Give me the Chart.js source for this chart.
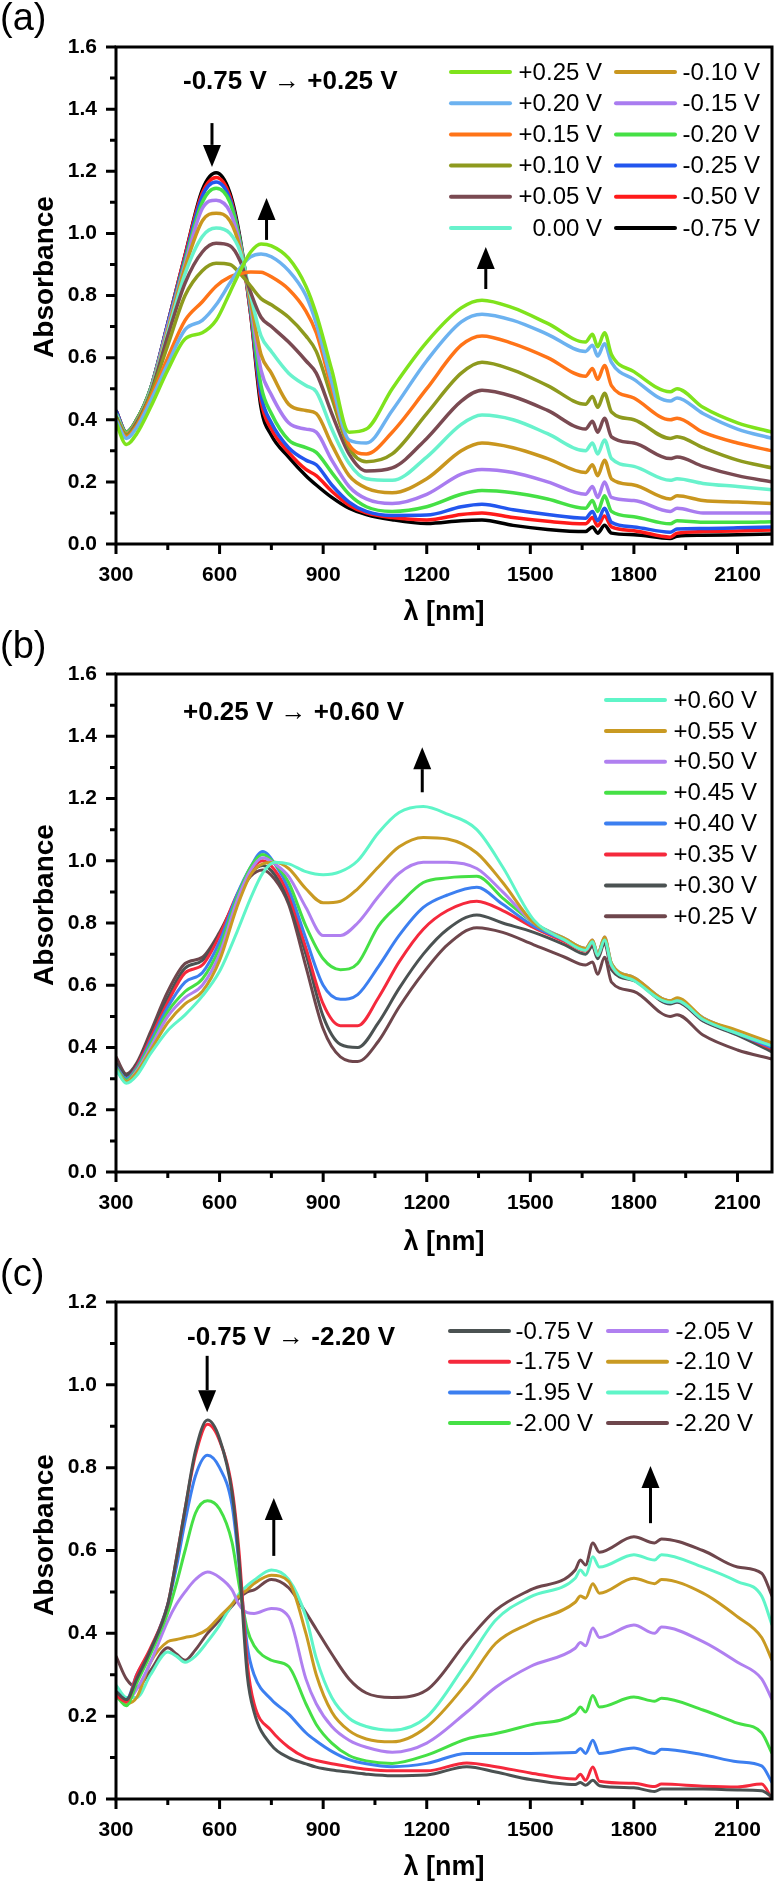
<!DOCTYPE html>
<html lang="en">
<head>
<meta charset="UTF-8">
<title>Absorbance spectra</title>
<script src="https://cdn.jsdelivr.net/npm/chart.js@4.4.0/dist/chart.umd.min.js"></script>
<style>
  body { margin: 0; background: #fff; }
  #wrap { position: relative; width: 780px; height: 1886px; }
  canvas { position: absolute; left: 0; }
</style>
</head>
<body>
<div id="wrap">
  <canvas id="cA" width="780" height="628" style="top:0"></canvas>
  <canvas id="cB" width="780" height="628" style="top:628px"></canvas>
  <canvas id="cC" width="780" height="630" style="top:1256px"></canvas>
</div>
<script>
// ---- panel (a): -0.75 V -> +0.25 V ----
const wlA = [300, 330, 360, 400, 450, 500, 550, 590, 630, 660, 690, 720, 750, 800, 850, 880, 925, 975, 1025, 1100,
             1200, 1300, 1360, 1450, 1550, 1660, 1680, 1695, 1715, 1735, 1800, 1905, 1925, 2000, 2100, 2200];
const labelsA = ['+0.25 V', '+0.20 V', '+0.15 V', '+0.10 V', '+0.05 V', '0.00 V',
                 '-0.10 V', '-0.15 V', '-0.20 V', '-0.25 V', '-0.50 V', '-0.75 V'];
const a_p025 = [0.39, 0.32, 0.355, 0.44, 0.56, 0.66, 0.68, 0.72, 0.81, 0.88, 0.94, 0.966, 0.96, 0.92, 0.83, 0.74, 0.56, 0.36, 0.37, 0.50,
                0.65, 0.76, 0.785, 0.76, 0.71, 0.65, 0.675, 0.635, 0.68, 0.61, 0.555, 0.49, 0.50, 0.44, 0.39, 0.36];
const a_p020 = [0.40, 0.34, 0.375, 0.46, 0.58, 0.69, 0.72, 0.77, 0.84, 0.89, 0.925, 0.934, 0.925, 0.88, 0.80, 0.71, 0.52, 0.335, 0.325, 0.43,
                0.59, 0.715, 0.74, 0.72, 0.675, 0.62, 0.64, 0.605, 0.645, 0.585, 0.53, 0.46, 0.47, 0.42, 0.37, 0.34];
const a_p015 = [0.40, 0.345, 0.38, 0.47, 0.60, 0.72, 0.78, 0.83, 0.86, 0.87, 0.876, 0.875, 0.86, 0.82, 0.75, 0.68, 0.50, 0.32, 0.29, 0.36,
                0.50, 0.64, 0.67, 0.645, 0.60, 0.54, 0.565, 0.53, 0.575, 0.51, 0.47, 0.40, 0.405, 0.36, 0.325, 0.30];
const a_p010 = [0.41, 0.35, 0.385, 0.48, 0.64, 0.80, 0.88, 0.904, 0.90, 0.87, 0.83, 0.79, 0.77, 0.73, 0.67, 0.62, 0.47, 0.31, 0.265, 0.29,
                0.42, 0.55, 0.585, 0.56, 0.51, 0.45, 0.475, 0.44, 0.485, 0.425, 0.40, 0.34, 0.345, 0.31, 0.27, 0.245];
const a_p005 = [0.41, 0.35, 0.39, 0.485, 0.67, 0.84, 0.94, 0.968, 0.96, 0.91, 0.81, 0.73, 0.70, 0.65, 0.59, 0.55, 0.42, 0.29, 0.235, 0.245,
                0.34, 0.46, 0.495, 0.475, 0.43, 0.37, 0.395, 0.36, 0.405, 0.345, 0.325, 0.275, 0.28, 0.25, 0.22, 0.20];
const a_000  = [0.42, 0.35, 0.39, 0.49, 0.68, 0.87, 0.99, 1.017, 1.00, 0.94, 0.80, 0.67, 0.62, 0.55, 0.51, 0.49, 0.37, 0.26, 0.21, 0.205,
                0.28, 0.385, 0.415, 0.40, 0.355, 0.30, 0.325, 0.29, 0.335, 0.275, 0.25, 0.205, 0.21, 0.195, 0.185, 0.175];
const a_m010 = [0.42, 0.355, 0.395, 0.49, 0.69, 0.89, 1.04, 1.065, 1.04, 0.95, 0.78, 0.61, 0.55, 0.45, 0.43, 0.42, 0.32, 0.22, 0.18, 0.165,
                0.21, 0.30, 0.325, 0.31, 0.275, 0.23, 0.255, 0.22, 0.27, 0.21, 0.19, 0.145, 0.155, 0.14, 0.135, 0.13];
const a_m015 = [0.42, 0.355, 0.395, 0.495, 0.70, 0.90, 1.08, 1.107, 1.07, 0.96, 0.77, 0.56, 0.48, 0.39, 0.37, 0.36, 0.27, 0.185, 0.145, 0.13,
                0.16, 0.225, 0.24, 0.23, 0.20, 0.16, 0.185, 0.15, 0.20, 0.15, 0.14, 0.105, 0.115, 0.10, 0.10, 0.10];
const a_m020 = [0.42, 0.36, 0.40, 0.50, 0.70, 0.91, 1.10, 1.145, 1.10, 0.97, 0.76, 0.51, 0.42, 0.335, 0.31, 0.295, 0.23, 0.16, 0.12, 0.105,
                0.12, 0.16, 0.172, 0.165, 0.145, 0.115, 0.14, 0.105, 0.155, 0.105, 0.088, 0.065, 0.075, 0.07, 0.07, 0.072];
const a_m025 = [0.43, 0.36, 0.40, 0.50, 0.71, 0.92, 1.12, 1.165, 1.11, 0.97, 0.75, 0.48, 0.39, 0.31, 0.27, 0.255, 0.19, 0.135, 0.105, 0.092,
                0.093, 0.12, 0.128, 0.11, 0.095, 0.083, 0.105, 0.075, 0.115, 0.07, 0.055, 0.038, 0.048, 0.05, 0.052, 0.055];
const a_m050 = [0.43, 0.36, 0.40, 0.50, 0.71, 0.93, 1.13, 1.18, 1.12, 0.97, 0.74, 0.46, 0.37, 0.295, 0.24, 0.22, 0.17, 0.125, 0.10, 0.085,
                0.077, 0.095, 0.10, 0.085, 0.073, 0.065, 0.085, 0.058, 0.09, 0.055, 0.043, 0.022, 0.035, 0.04, 0.042, 0.045];
const a_m075 = [0.43, 0.36, 0.40, 0.50, 0.71, 0.93, 1.14, 1.195, 1.13, 0.98, 0.74, 0.44, 0.35, 0.28, 0.22, 0.19, 0.15, 0.115, 0.095, 0.078,
                0.066, 0.075, 0.077, 0.06, 0.047, 0.04, 0.055, 0.035, 0.06, 0.035, 0.03, 0.018, 0.025, 0.028, 0.03, 0.032];

// ---- panel (b): +0.25 V -> +0.60 V ----
const wlB = [300, 330, 360, 400, 450, 500, 550, 600, 650, 690, 725, 760, 800, 850, 900, 950, 1000, 1060, 1120, 1190,
             1260, 1345, 1420, 1510, 1600, 1660, 1680, 1695, 1715, 1735, 1800, 1905, 1925, 2000, 2100, 2200];
const labelsB = ['+0.60 V', '+0.55 V', '+0.50 V', '+0.45 V', '+0.40 V', '+0.35 V', '+0.30 V', '+0.25 V'];
const b_p060 = [0.33, 0.285, 0.31, 0.38, 0.455, 0.505, 0.565, 0.645, 0.77, 0.88, 0.96, 0.995, 0.99, 0.965, 0.955, 0.965, 1.00, 1.09, 1.155, 1.174,
                1.15, 1.10, 0.98, 0.81, 0.745, 0.712, 0.74, 0.695, 0.745, 0.665, 0.615, 0.545, 0.55, 0.49, 0.445, 0.405];
const b_p055 = [0.33, 0.29, 0.32, 0.39, 0.48, 0.54, 0.58, 0.68, 0.85, 0.955, 0.99, 0.995, 0.975, 0.91, 0.865, 0.87, 0.91, 0.98, 1.045, 1.075,
                1.07, 1.025, 0.93, 0.80, 0.75, 0.718, 0.745, 0.70, 0.755, 0.67, 0.625, 0.55, 0.56, 0.495, 0.455, 0.415];
const b_p050 = [0.33, 0.29, 0.325, 0.40, 0.50, 0.56, 0.60, 0.70, 0.87, 0.97, 1.01, 0.99, 0.95, 0.85, 0.76, 0.76, 0.80, 0.885, 0.96, 0.995,
                0.995, 0.975, 0.90, 0.80, 0.75, 0.718, 0.745, 0.70, 0.755, 0.67, 0.625, 0.55, 0.555, 0.495, 0.45, 0.413];
const b_p045 = [0.335, 0.295, 0.33, 0.41, 0.515, 0.58, 0.62, 0.72, 0.88, 0.98, 1.02, 0.99, 0.93, 0.79, 0.685, 0.65, 0.67, 0.79, 0.86, 0.93,
                0.945, 0.95, 0.88, 0.80, 0.75, 0.718, 0.74, 0.70, 0.75, 0.67, 0.625, 0.55, 0.555, 0.495, 0.45, 0.41];
const b_p040 = [0.34, 0.30, 0.335, 0.42, 0.53, 0.61, 0.64, 0.74, 0.89, 0.98, 1.03, 0.99, 0.91, 0.75, 0.60, 0.555, 0.57, 0.66, 0.76, 0.85,
                0.89, 0.915, 0.86, 0.79, 0.745, 0.715, 0.74, 0.70, 0.75, 0.665, 0.62, 0.545, 0.55, 0.49, 0.445, 0.40];
const b_p035 = [0.34, 0.30, 0.34, 0.43, 0.545, 0.64, 0.665, 0.76, 0.89, 0.97, 1.00, 0.97, 0.89, 0.72, 0.54, 0.47, 0.47, 0.56, 0.675, 0.78,
                0.84, 0.87, 0.84, 0.785, 0.74, 0.71, 0.735, 0.695, 0.745, 0.66, 0.62, 0.545, 0.55, 0.49, 0.445, 0.395];
const b_p030 = [0.35, 0.31, 0.345, 0.44, 0.56, 0.655, 0.68, 0.765, 0.88, 0.96, 0.985, 0.955, 0.87, 0.70, 0.50, 0.41, 0.40, 0.48, 0.59, 0.70,
                0.78, 0.826, 0.80, 0.77, 0.73, 0.70, 0.725, 0.685, 0.735, 0.65, 0.615, 0.54, 0.545, 0.485, 0.44, 0.386];
const b_p025 = [0.37, 0.315, 0.35, 0.45, 0.58, 0.67, 0.69, 0.77, 0.88, 0.95, 0.97, 0.94, 0.86, 0.66, 0.46, 0.37, 0.355, 0.42, 0.53, 0.64,
                0.73, 0.785, 0.77, 0.73, 0.69, 0.665, 0.675, 0.635, 0.69, 0.61, 0.58, 0.50, 0.505, 0.44, 0.392, 0.363];

// ---- panel (c): -0.75 V -> -2.20 V ----
const wlC = [300, 330, 360, 400, 450, 475, 500, 530, 565, 600, 636, 656, 680, 700, 750, 800, 850, 880, 925, 975,
             1025, 1100, 1200, 1316, 1400, 1500, 1630, 1645, 1660, 1681, 1700, 1800, 1860, 1880, 2000, 2100, 2170, 2200];
const labelsC = ['-0.75 V', '-1.75 V', '-1.95 V', '-2.00 V', '-2.05 V', '-2.10 V', '-2.15 V', '-2.20 V'];
const c_m075 = [0.26, 0.24, 0.29, 0.36, 0.47, 0.58, 0.70, 0.84, 0.915, 0.87, 0.74, 0.58, 0.30, 0.21, 0.13, 0.10, 0.085, 0.077, 0.07, 0.065,
                0.06, 0.056, 0.058, 0.078, 0.065, 0.047, 0.035, 0.04, 0.033, 0.045, 0.032, 0.027, 0.018, 0.024, 0.024, 0.022, 0.02, 0.005];
const c_m175 = [0.25, 0.235, 0.30, 0.365, 0.47, 0.58, 0.70, 0.83, 0.905, 0.865, 0.75, 0.60, 0.33, 0.23, 0.165, 0.125, 0.10, 0.093, 0.085, 0.078,
                0.072, 0.068, 0.068, 0.087, 0.078, 0.063, 0.048, 0.06, 0.045, 0.077, 0.043, 0.038, 0.03, 0.036, 0.031, 0.029, 0.036, 0.0];
const c_m195 = [0.26, 0.24, 0.30, 0.36, 0.47, 0.56, 0.67, 0.78, 0.83, 0.80, 0.71, 0.57, 0.37, 0.30, 0.24, 0.205, 0.16, 0.14, 0.115, 0.095,
                0.085, 0.078, 0.086, 0.11, 0.11, 0.11, 0.112, 0.122, 0.11, 0.142, 0.11, 0.123, 0.11, 0.12, 0.107, 0.09, 0.08, 0.04];
const c_m200 = [0.25, 0.225, 0.28, 0.35, 0.45, 0.52, 0.60, 0.69, 0.72, 0.70, 0.62, 0.52, 0.41, 0.37, 0.335, 0.32, 0.23, 0.18, 0.135, 0.105,
                0.092, 0.086, 0.106, 0.145, 0.158, 0.179, 0.207, 0.222, 0.21, 0.25, 0.222, 0.246, 0.236, 0.243, 0.215, 0.183, 0.16, 0.11];
const c_m205 = [0.245, 0.235, 0.265, 0.33, 0.43, 0.47, 0.50, 0.53, 0.548, 0.535, 0.505, 0.47, 0.45, 0.448, 0.46, 0.44, 0.29, 0.23, 0.175, 0.142,
                0.125, 0.113, 0.135, 0.21, 0.27, 0.32, 0.364, 0.378, 0.37, 0.413, 0.39, 0.42, 0.40, 0.415, 0.38, 0.33, 0.29, 0.24];
const c_m210 = [0.255, 0.23, 0.245, 0.33, 0.38, 0.385, 0.39, 0.395, 0.41, 0.44, 0.47, 0.49, 0.505, 0.52, 0.54, 0.525, 0.40, 0.30, 0.21, 0.165,
                0.145, 0.138, 0.174, 0.28, 0.376, 0.425, 0.475, 0.49, 0.485, 0.52, 0.497, 0.533, 0.52, 0.53, 0.497, 0.44, 0.39, 0.335];
const c_m215 = [0.275, 0.245, 0.245, 0.30, 0.355, 0.345, 0.33, 0.345, 0.38, 0.42, 0.47, 0.495, 0.515, 0.528, 0.553, 0.53, 0.44, 0.34, 0.245, 0.195,
                0.175, 0.166, 0.198, 0.33, 0.432, 0.488, 0.533, 0.553, 0.54, 0.585, 0.56, 0.59, 0.577, 0.59, 0.56, 0.525, 0.49, 0.42];
const c_m220 = [0.345, 0.29, 0.27, 0.31, 0.365, 0.35, 0.335, 0.36, 0.40, 0.432, 0.466, 0.485, 0.50, 0.505, 0.53, 0.51, 0.45, 0.41, 0.35, 0.29,
                0.256, 0.245, 0.263, 0.38, 0.456, 0.505, 0.553, 0.577, 0.565, 0.618, 0.596, 0.633, 0.618, 0.628, 0.60, 0.56, 0.545, 0.49];

// tick positions (every other one gets a label)
const xTicks = [300, 450, 600, 750, 900, 1050, 1200, 1350, 1500, 1650, 1800, 1950, 2100];
const yTicks16 = [0, 0.1, 0.2, 0.3, 0.4, 0.5, 0.6, 0.7, 0.8, 0.9, 1.0, 1.1, 1.2, 1.3, 1.4, 1.5, 1.6];
const yTicks12 = [0, 0.1, 0.2, 0.3, 0.4, 0.5, 0.6, 0.7, 0.8, 0.9, 1.0, 1.1, 1.2];

const FONT = "'Liberation Sans', Arial, sans-serif";
Chart.defaults.font.family = FONT;

// frame, tick marks, titles, arrows, legend
const decor = {
  id: 'decor',
  afterDraw(chart, args, o) {
    const ctx = chart.ctx, a = chart.chartArea;
    const xs = chart.scales.x, ys = chart.scales.y;
    ctx.save();
    ctx.strokeStyle = '#000';
    ctx.fillStyle = '#000';
    ctx.lineWidth = 3;
    ctx.strokeRect(a.left, a.top, a.right - a.left, a.bottom - a.top);

    ctx.beginPath();
    ys.ticks.forEach((t, i) => {
      const p = ys.getPixelForValue(t.value);
      const len = i % 2 === 0 ? 10 : 6;
      ctx.moveTo(a.left, p); ctx.lineTo(a.left - len, p);
    });
    xs.ticks.forEach((t, i) => {
      const p = xs.getPixelForValue(t.value);
      const len = i % 2 === 0 ? 10 : 6;
      ctx.moveTo(p, a.bottom); ctx.lineTo(p, a.bottom + len);
    });
    ctx.stroke();

    // panel letter
    ctx.font = '38px ' + FONT;
    ctx.textAlign = 'left'; ctx.textBaseline = 'alphabetic';
    ctx.fillText(o.letter, 0, 30);

    // axis titles
    ctx.font = 'bold 27px ' + FONT;
    ctx.textAlign = 'center'; ctx.textBaseline = 'middle';
    ctx.fillText('λ [nm]', (a.left + a.right) / 2, o.xTitleY);
    ctx.save();
    ctx.translate(53, o.yTitleY);
    ctx.rotate(-Math.PI / 2);
    ctx.font = 'bold 28px ' + FONT;
    ctx.textBaseline = 'alphabetic';
    ctx.fillText('Absorbance', 0, 0);
    ctx.restore();

    // potential step note
    ctx.textAlign = 'left'; ctx.textBaseline = 'middle';
    let x = o.note.x;
    o.note.parts.forEach((s, i) => {
      ctx.font = (i === 1 ? '' : 'bold ') + '26px ' + FONT;
      ctx.fillText(s, x, o.note.y);
      x += ctx.measureText(s).width;
    });

    // arrows
    o.arrows.forEach(([wx, v0, v1]) => {
      const px = xs.getPixelForValue(wx);
      const y0 = ys.getPixelForValue(v0), y1 = ys.getPixelForValue(v1);
      const dir = Math.sign(y1 - y0), hl = 22, hw = 9;
      ctx.lineWidth = 3;
      ctx.beginPath(); ctx.moveTo(px, y0); ctx.lineTo(px, y1 - dir * hl); ctx.stroke();
      ctx.beginPath();
      ctx.moveTo(px, y1);
      ctx.lineTo(px - hw, y1 - dir * hl);
      ctx.lineTo(px + hw, y1 - dir * hl);
      ctx.closePath(); ctx.fill();
    });

    // legend
    ctx.font = '24px ' + FONT;
    ctx.textAlign = 'right'; ctx.textBaseline = 'middle';
    ctx.lineCap = 'round';
    o.legend.cols.forEach(c => {
      c.idx.forEach((di, r) => {
        const ds = chart.data.datasets[di];
        const y = o.legend.y0 + r * o.legend.dy;
        ctx.strokeStyle = ds.borderColor; ctx.lineWidth = 4;
        ctx.beginPath(); ctx.moveTo(c.x0, y); ctx.lineTo(c.x1, y); ctx.stroke();
        ctx.fillStyle = '#000';
        ctx.fillText(ds.label, c.tx, y + 1);
      });
    });
    ctx.restore();
  }
};

function panel(id, p) {
  const datasets = p.series.map((s, i) => ({
    label: p.labels[i],
    data: p.wl.map((w, k) => ({ x: w, y: s[k] })),
    borderColor: p.colors[i],
    borderWidth: p.lw,
    pointRadius: 0,
    cubicInterpolationMode: 'monotone',
    fill: false
  }));
  const tickFont = { size: 21, weight: 'bold', family: FONT };
  return new Chart(document.getElementById(id), {
    type: 'line',
    data: { datasets },
    options: {
      responsive: false,
      animation: false,
      devicePixelRatio: 1,
      layout: { padding: { top: p.top, right: 3, left: 0, bottom: 0 } },
      scales: {
        x: {
          type: 'linear', min: 300, max: 2200,
          grid: { display: false, drawTicks: false },
          border: { display: false },
          afterBuildTicks: s => { s.ticks = xTicks.map(v => ({ value: v })); },
          ticks: {
            autoSkip: false, maxRotation: 0, padding: 19,
            color: '#000', font: tickFont,
            callback: (v, i) => (i % 2 === 0 ? String(v) : '')
          },
          afterFit: s => { s.height = p.xh; }
        },
        y: {
          min: 0, max: p.ymax,
          grid: { display: false, drawTicks: false },
          border: { display: false },
          afterBuildTicks: s => { s.ticks = p.yTicks.map(v => ({ value: v })); },
          ticks: {
            autoSkip: false, padding: 19,
            color: '#000', font: tickFont,
            callback: (v, i) => (i % 2 === 0 ? v.toFixed(1) : '')
          },
          afterFit: s => { s.width = 116; }
        }
      },
      plugins: {
        legend: { display: false },
        tooltip: { enabled: false },
        decor: p.decor
      }
    },
    plugins: [decor]
  });
}

panel('cA', {
  wl: wlA, labels: labelsA, lw: 3.5, ymax: 1.6, yTicks: yTicks16, top: 47, xh: 84,
  series: [a_p025, a_p020, a_p015, a_p010, a_p005, a_000, a_m010, a_m015, a_m020, a_m025, a_m050, a_m075],
  colors: ['#7fe31c', '#6cb2f0', '#ff7418', '#8e9a1e', '#7a4a52', '#68f2cc',
           '#c9961e', '#a97cf0', '#45e045', '#2256ee', '#ff1a1a', '#000000'],
  decor: {
    letter: '(a)', xTitleY: 613, yTitleY: 277,
    note: { x: 183, y: 82, parts: ['-0.75 V', ' → ', '+0.25 V'] },
    arrows: [[578, 1.355, 1.214], [736, 0.979, 1.114], [1371, 0.821, 0.956]],
    legend: { y0: 72, dy: 31.2, cols: [
      { x0: 451, x1: 510, tx: 602, idx: [0, 1, 2, 3, 4, 5] },
      { x0: 616, x1: 675, tx: 760, idx: [6, 7, 8, 9, 10, 11] }
    ] }
  }
});

panel('cB', {
  wl: wlB, labels: labelsB, lw: 3, ymax: 1.6, yTicks: yTicks16, top: 46, xh: 84,
  series: [b_p060, b_p055, b_p050, b_p045, b_p040, b_p035, b_p030, b_p025],
  colors: ['#5ff5c8', '#c99a22', '#b080f0', '#45e045', '#3c7ff0', '#f5293c', '#4b5252', '#6e464c'],
  decor: {
    letter: '(b)', xTitleY: 615, yTitleY: 277,
    note: { x: 183, y: 85, parts: ['+0.25 V', ' → ', '+0.60 V'] },
    arrows: [[1187, 1.22, 1.365]],
    legend: { y0: 72, dy: 30.9, cols: [
      { x0: 606, x1: 665, tx: 757, idx: [0, 1, 2, 3, 4, 5, 6, 7] }
    ] }
  }
});

panel('cC', {
  wl: wlC, labels: labelsC, lw: 3, ymax: 1.2, yTicks: yTicks12, top: 46, xh: 87,
  series: [c_m075, c_m175, c_m195, c_m200, c_m205, c_m210, c_m215, c_m220],
  colors: ['#4b5252', '#f5293c', '#3c7ff0', '#45e045', '#b080f0', '#c99a22', '#5ff5c8', '#6e464c'],
  decor: {
    letter: '(c)', xTitleY: 612, yTitleY: 279,
    note: { x: 187, y: 82, parts: ['-0.75 V', ' → ', '-2.20 V'] },
    arrows: [[564, 1.07, 0.934], [757, 0.587, 0.727], [1848, 0.666, 0.804]],
    legend: { y0: 75, dy: 30.7, cols: [
      { x0: 450, x1: 509, tx: 593, idx: [0, 1, 2, 3] },
      { x0: 608, x1: 667, tx: 753, idx: [4, 5, 6, 7] }
    ] }
  }
});
</script>
</body>
</html>
